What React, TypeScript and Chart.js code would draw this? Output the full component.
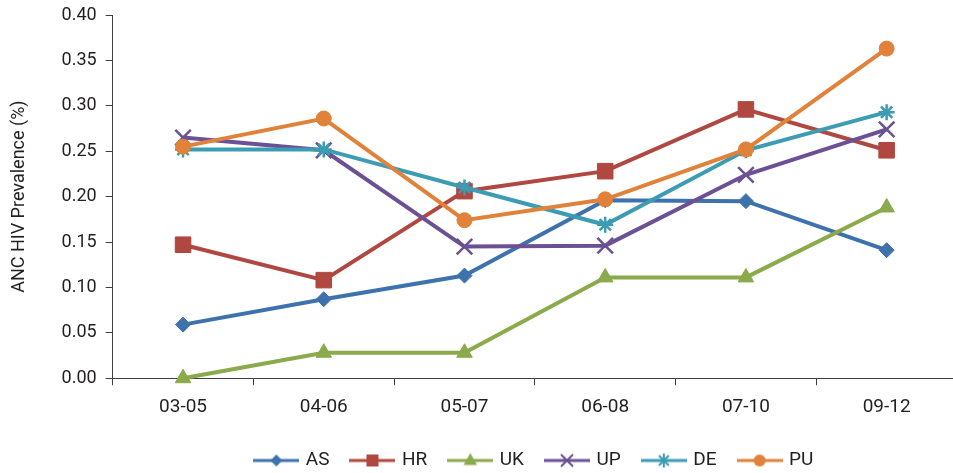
import React, { useEffect, useRef } from "react";
import { Chart, registerables } from "chart.js";

Chart.register(...registerables);

// Survey rounds on the x axis
const periods = ["03-05", "04-06", "05-07", "06-08", "07-10", "09-12"];

// ANC HIV prevalence (%) by state
const asValues = [0.059, 0.087, 0.113, 0.196, 0.195, 0.141];
const hrValues = [0.147, 0.108, 0.206, 0.228, 0.296, 0.251];
const ukValues = [0.0, 0.028, 0.028, 0.111, 0.111, 0.188];
const upValues = [0.265, 0.251, 0.145, 0.146, 0.224, 0.274];
const deValues = [0.252, 0.252, 0.21, 0.169, 0.251, 0.293];
const puValues = [0.255, 0.286, 0.174, 0.197, 0.252, 0.363];

const seriesLabels = ["AS", "HR", "UK", "UP", "DE", "PU"];

const FONT = "Roboto, 'Liberation Sans', sans-serif";
const TEXT = "#231f20";
const AXIS = "#3f3f3f";

type Series = {
  label: string;
  data: number[];
  color: string;
  style: string;
  radius: number;
  pointWidth: number;
};

const series: Series[] = [
  { label: seriesLabels[0], data: asValues, color: "#3e72ad", style: "rectRot", radius: 7.5, pointWidth: 1 },
  { label: seriesLabels[1], data: hrValues, color: "#b04741", style: "rect", radius: 11, pointWidth: 1 },
  { label: seriesLabels[2], data: ukValues, color: "#8aaa4b", style: "triangle", radius: 9, pointWidth: 1 },
  { label: seriesLabels[3], data: upValues, color: "#6b5193", style: "crossRot", radius: 11, pointWidth: 2.5 },
  { label: seriesLabels[4], data: deValues, color: "#3b9cb4", style: "star", radius: 8, pointWidth: 2.5 },
  { label: seriesLabels[5], data: puValues, color: "#e0823a", style: "circle", radius: 7.5, pointWidth: 1 },
];

// Small line-with-marker swatch used as the legend symbol
function legendSwatch(color: string, style: string): HTMLCanvasElement {
  const w = 46;
  const h = 18;
  const c = document.createElement("canvas");
  c.width = w;
  c.height = h;
  const ctx = c.getContext("2d")!;
  const x = w / 2;
  const y = h / 2;
  ctx.strokeStyle = color;
  ctx.fillStyle = color;
  ctx.lineWidth = 3;
  ctx.beginPath();
  ctx.moveTo(0, y);
  ctx.lineTo(w, y);
  ctx.stroke();
  ctx.beginPath();
  switch (style) {
    case "rectRot": {
      const r = 6;
      ctx.moveTo(x, y - r);
      ctx.lineTo(x + r, y);
      ctx.lineTo(x, y + r);
      ctx.lineTo(x - r, y);
      ctx.closePath();
      ctx.fill();
      break;
    }
    case "rect": {
      const s = 6;
      ctx.fillRect(x - s, y - s, 2 * s, 2 * s);
      break;
    }
    case "triangle": {
      const r = 7.5;
      ctx.moveTo(x, y - r);
      ctx.lineTo(x + r * 0.9, y + r * 0.6);
      ctx.lineTo(x - r * 0.9, y + r * 0.6);
      ctx.closePath();
      ctx.fill();
      break;
    }
    case "crossRot": {
      const r = 6;
      ctx.lineWidth = 2;
      ctx.moveTo(x - r, y - r);
      ctx.lineTo(x + r, y + r);
      ctx.moveTo(x + r, y - r);
      ctx.lineTo(x - r, y + r);
      ctx.stroke();
      break;
    }
    case "star": {
      const r = 7;
      const d = r * Math.SQRT1_2;
      ctx.lineWidth = 2;
      ctx.moveTo(x, y - r);
      ctx.lineTo(x, y + r);
      ctx.moveTo(x - d, y - d);
      ctx.lineTo(x + d, y + d);
      ctx.moveTo(x + d, y - d);
      ctx.lineTo(x - d, y + d);
      ctx.stroke();
      break;
    }
    default: {
      ctx.arc(x, y, 6, 0, Math.PI * 2);
      ctx.fill();
    }
  }
  return c;
}

export default function App() {
  const canvasRef = useRef<HTMLCanvasElement | null>(null);

  useEffect(() => {
    document.documentElement.style.overflow = "hidden";
    document.body.style.overflow = "hidden";
    const canvas = canvasRef.current;
    if (!canvas) return;

    const swatches = series.map((s) => legendSwatch(s.color, s.style));

    const chart = new Chart(canvas, {
      type: "line",
      data: {
        labels: periods,
        datasets: series.map((s, i) => ({
          label: s.label,
          data: s.data,
          borderColor: s.color,
          backgroundColor: s.color,
          borderWidth: 4,
          pointStyle: s.style as any,
          pointRadius: s.radius,
          pointHoverRadius: s.radius,
          pointBorderWidth: s.pointWidth,
          pointBackgroundColor: s.color,
          pointBorderColor: s.color,
          tension: 0,
          clip: false as any,
          order: series.length - i,
        })),
      },
      options: {
        animation: false,
        responsive: false,
        maintainAspectRatio: false,
        layout: { autoPadding: false, padding: { top: 15, right: 3, left: 5, bottom: -7 } },
        plugins: {
          tooltip: { enabled: false },
          legend: {
            position: "bottom",
            fullSize: false,
            labels: {
              usePointStyle: true,
              pointStyleWidth: 40,
              padding: 23,
              color: TEXT,
              font: { family: FONT, size: 19 },
              generateLabels: (ch: Chart) =>
                series.map((s, i) => ({
                  text: s.label,
                  datasetIndex: i,
                  pointStyle: swatches[i] as any,
                  fillStyle: s.color,
                  strokeStyle: s.color,
                  lineWidth: 0,
                  hidden: !ch.isDatasetVisible(i),
                  fontColor: TEXT,
                })),
            },
          },
        },
        scales: {
          x: {
            type: "category",
            offset: true,
            afterFit: (scale: any) => {
              // pull the legend slightly closer to the category labels
              scale.height -= 2;
            },
            grid: {
              display: true,
              drawOnChartArea: false,
              drawTicks: true,
              tickLength: 7,
              color: AXIS,
              offset: true,
            },
            border: { display: true, color: AXIS, width: 1 },
            ticks: { color: TEXT, font: { family: FONT, size: 19 }, padding: 11 },
          },
          y: {
            min: 0,
            max: 0.4,
            afterFit: (scale: any) => {
              // top spacing comes from the layout padding alone
              scale.paddingTop = 0;
            },
            grid: {
              display: true,
              drawOnChartArea: false,
              drawTicks: true,
              tickLength: 7,
              color: AXIS,
            },
            border: { display: true, color: AXIS, width: 1 },
            ticks: {
              stepSize: 0.05,
              color: TEXT,
              font: { family: FONT, size: 18 },
              padding: 9,
              callback: (v: any) => Number(v).toFixed(2),
            },
            title: {
              display: true,
              text: "ANC HIV Prevalence (%)",
              color: TEXT,
              font: { family: FONT, size: 18 },
              padding: { top: 4, bottom: 22 },
            },
          },
        },
      },
    });

    return () => chart.destroy();
  }, []);

  return (
    <div style={{ position: "absolute", left: 0, top: 0, width: 960, height: 473, background: "#fff" }}>
      <canvas ref={canvasRef} width={960} height={473} style={{ display: "block" }} />
    </div>
  );
}
